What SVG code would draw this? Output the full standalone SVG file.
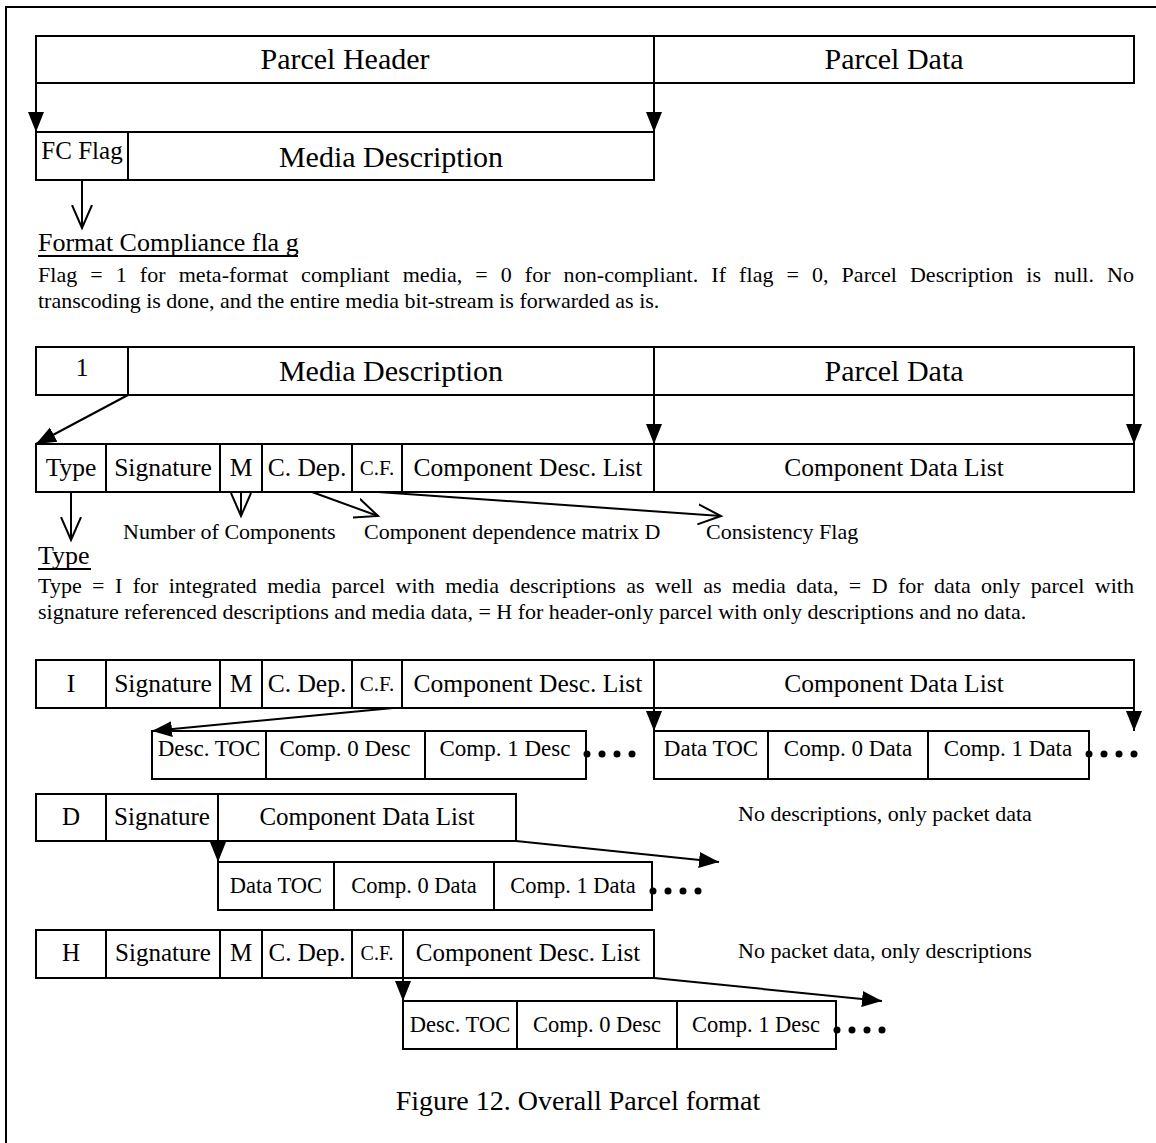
<svg xmlns="http://www.w3.org/2000/svg" width="1156" height="1143" viewBox="0 0 1156 1143">
<defs>
<style>
rect{fill:none;stroke:#000;stroke-width:2}
line{fill:none;stroke:#000;stroke-width:2}
text{font-family:"Liberation Serif","Times New Roman",serif;fill:#000}
.big{font-size:30px;text-anchor:middle}
.cell{font-size:25.5px;text-anchor:middle}
.sub{font-size:23px;text-anchor:middle}
.sm{font-size:25px;text-anchor:middle}
.sm2{font-size:22.5px;text-anchor:middle}
.lbl{font-size:22px}
.para{font-size:22px}
.head{font-size:26px}
.cap{font-size:28px;text-anchor:middle}
.dot{fill:#000;stroke:none}
</style>
<marker id="fa" markerUnits="userSpaceOnUse" markerWidth="20" markerHeight="18" refX="20" refY="8" orient="auto" viewBox="0 0 20 16">
<path d="M0,0 L20,8 L0,16 z" fill="#000"/>
</marker>
<marker id="va" markerUnits="userSpaceOnUse" markerWidth="26" markerHeight="24" refX="23" refY="11" orient="auto" viewBox="0 0 26 22">
<path d="M0,1 L23,11 L0,21" fill="none" stroke="#000" stroke-width="2"/>
</marker>
</defs>
<rect x="6" y="7" width="1160" height="1150"/>

<g id="sec1-header">
<rect x="36" y="36" width="618" height="47"/>
<text class="big" x="345" y="69">Parcel Header</text>
</g>
<g id="sec1-data">
<rect x="654" y="36" width="480" height="47"/>
<text class="big" x="894" y="69">Parcel Data</text>
</g>
<g id="sec1-fcflag">
<rect x="36" y="132" width="92" height="48"/>
<text x="82" y="159" style="font-size:25px;text-anchor:middle">FC Flag</text>
</g>
<g id="sec1-media">
<rect x="128" y="132" width="526" height="48"/>
<text class="big" x="391" y="167">Media Description</text>
</g>
<g id="fc-text">
<text class="head" x="38" y="251">Format Compliance fla g</text>
<line x1="38" y1="256" x2="298" y2="256"/>
<text class="para" x="38" y="282" word-spacing="7.4" textLength="1096" lengthAdjust="spacing">Flag = 1 for meta-format compliant media, = 0 for non-compliant. If flag = 0, Parcel Description is null. No</text>
<text class="para" x="38" y="308">transcoding is done, and the entire media bit-stream is forwarded as is.</text>
</g>

<g id="sec2-one"><rect x="36" y="347" width="92" height="48"/><text class="cell" x="82" y="376">1</text></g>
<g id="sec2-media"><rect x="128" y="347" width="526" height="48"/><text class="big" x="391" y="381">Media Description</text></g>
<g id="sec2-data"><rect x="654" y="347" width="480" height="48"/><text class="big" x="894" y="381">Parcel Data</text></g>

<g id="row2-type"><rect x="36" y="444" width="70" height="48"/><text class="cell" x="71" y="476">Type</text></g>
<g id="row2-sig"><rect x="106" y="444" width="114" height="48"/><text class="cell" x="163" y="476">Signature</text></g>
<g id="row2-m"><rect x="220" y="444" width="42" height="48"/><text class="cell" x="241" y="476">M</text></g>
<g id="row2-cdep"><rect x="262" y="444" width="90" height="48"/><text class="cell" x="307" y="476">C. Dep.</text></g>
<g id="row2-cf"><rect x="352" y="444" width="50" height="48"/><text class="cell" x="377" y="475" style="font-size:21px">C.F.</text></g>
<g id="row2-cdl"><rect x="402" y="444" width="252" height="48"/><text class="cell" x="528" y="476">Component Desc. List</text></g>
<g id="row2-cdata"><rect x="654" y="444" width="480" height="48"/><text class="cell" x="894" y="476">Component Data List</text></g>

<g id="type-text">
<text class="lbl" x="123" y="539">Number of Components</text>
<text class="lbl" x="364" y="539">Component dependence matrix D</text>
<text class="lbl" x="706" y="539">Consistency Flag</text>
<text class="head" x="38" y="564">Type</text>
<line x1="38" y1="569" x2="91" y2="569"/>
<text class="para" x="38" y="593" word-spacing="4.86" textLength="1096" lengthAdjust="spacing">Type = I for integrated media parcel with media descriptions as well as media data, = D for data only parcel with</text>
<text class="para" x="38" y="619">signature referenced descriptions and media data, = H for header-only parcel with only descriptions and no data.</text>
</g>

<g id="rowI-type"><rect x="36" y="660" width="70" height="48"/><text class="cell" x="71" y="692">I</text></g>
<g id="rowI-sig"><rect x="106" y="660" width="114" height="48"/><text class="cell" x="163" y="692">Signature</text></g>
<g id="rowI-m"><rect x="220" y="660" width="42" height="48"/><text class="cell" x="241" y="692">M</text></g>
<g id="rowI-cdep"><rect x="262" y="660" width="90" height="48"/><text class="cell" x="307" y="692">C. Dep.</text></g>
<g id="rowI-cf"><rect x="352" y="660" width="50" height="48"/><text class="cell" x="377" y="691" style="font-size:21px">C.F.</text></g>
<g id="rowI-cdl"><rect x="402" y="660" width="252" height="48"/><text class="cell" x="528" y="692">Component Desc. List</text></g>
<g id="rowI-cdata"><rect x="654" y="660" width="480" height="48"/><text class="cell" x="894" y="692">Component Data List</text></g>

<g id="subI-dtoc"><rect x="152" y="731" width="114" height="48"/><text class="sub" x="209" y="756">Desc. TOC</text></g>
<g id="subI-c0"><rect x="266" y="731" width="159" height="48"/><text class="sub" x="345" y="756">Comp. 0 Desc</text></g>
<g id="subI-c1"><rect x="425" y="731" width="161" height="48"/><text class="sub" x="505" y="756">Comp. 1 Desc</text></g>
<g id="subI-dots1"><circle class="dot" cx="587" cy="754" r="3.5"/><circle class="dot" cx="602" cy="754" r="3.5"/><circle class="dot" cx="617" cy="754" r="3.5"/><circle class="dot" cx="632" cy="754" r="3.5"/></g>
<g id="subI-datatoc"><rect x="654" y="731" width="114" height="48"/><text class="sub" x="711" y="756">Data TOC</text></g>
<g id="subI-d0"><rect x="768" y="731" width="160" height="48"/><text class="sub" x="848" y="756">Comp. 0 Data</text></g>
<g id="subI-d1"><rect x="928" y="731" width="161" height="48"/><text class="sub" x="1008" y="756">Comp. 1 Data</text></g>
<g id="subI-dots2"><circle class="dot" cx="1089" cy="754" r="3.5"/><circle class="dot" cx="1104" cy="754" r="3.5"/><circle class="dot" cx="1119" cy="754" r="3.5"/><circle class="dot" cx="1134" cy="754" r="3.5"/></g>

<g id="rowD-type"><rect x="36" y="794" width="70" height="47"/><text class="sm" x="71" y="825">D</text></g>
<g id="rowD-sig"><rect x="106" y="794" width="112" height="47"/><text class="sm" x="162" y="825">Signature</text></g>
<g id="rowD-cdata"><rect x="218" y="794" width="298" height="47"/><text class="sm" x="367" y="825">Component Data List</text></g>
<g id="rowD-note"><text class="lbl" x="738" y="821">No descriptions, only packet data</text></g>
<g id="subD-datatoc"><rect x="218" y="862" width="116" height="48"/><text class="sm2" x="276" y="893">Data TOC</text></g>
<g id="subD-d0"><rect x="334" y="862" width="160" height="48"/><text class="sm2" x="414" y="893">Comp. 0 Data</text></g>
<g id="subD-d1"><rect x="494" y="862" width="158" height="48"/><text class="sm2" x="573" y="893">Comp. 1 Data</text></g>
<g id="subD-dots"><circle class="dot" cx="653" cy="891" r="3.5"/><circle class="dot" cx="668" cy="891" r="3.5"/><circle class="dot" cx="683" cy="891" r="3.5"/><circle class="dot" cx="698" cy="891" r="3.5"/></g>

<g id="rowH-type"><rect x="36" y="930" width="70" height="48"/><text class="sm" x="71" y="961">H</text></g>
<g id="rowH-sig"><rect x="106" y="930" width="114" height="48"/><text class="sm" x="163" y="961">Signature</text></g>
<g id="rowH-m"><rect x="220" y="930" width="42" height="48"/><text class="sm" x="241" y="961">M</text></g>
<g id="rowH-cdep"><rect x="262" y="930" width="90" height="48"/><text class="sm" x="307" y="961">C. Dep.</text></g>
<g id="rowH-cf"><rect x="352" y="930" width="51" height="48"/><text class="sm" x="377" y="960" style="font-size:20px">C.F.</text></g>
<g id="rowH-cdl"><rect x="403" y="930" width="251" height="48"/><text class="sm" x="528" y="961">Component Desc. List</text></g>
<g id="rowH-note"><text class="lbl" x="738" y="958">No packet data, only descriptions</text></g>
<g id="subH-dtoc"><rect x="403" y="1001" width="114" height="48"/><text class="sm2" x="460" y="1032">Desc. TOC</text></g>
<g id="subH-c0"><rect x="517" y="1001" width="160" height="48"/><text class="sm2" x="597" y="1032">Comp. 0 Desc</text></g>
<g id="subH-c1"><rect x="677" y="1001" width="159" height="48"/><text class="sm2" x="756" y="1032">Comp. 1 Desc</text></g>
<g id="subH-dots"><circle class="dot" cx="837" cy="1030" r="3.5"/><circle class="dot" cx="852" cy="1030" r="3.5"/><circle class="dot" cx="867" cy="1030" r="3.5"/><circle class="dot" cx="882" cy="1030" r="3.5"/></g>

<g id="caption"><text class="cap" x="578" y="1110">Figure 12. Overall Parcel format</text></g>

<g id="connectors">
<line x1="36" y1="83" x2="36" y2="132" marker-end="url(#fa)"/>
<line x1="654" y1="83" x2="654" y2="132" marker-end="url(#fa)"/>
<line x1="82" y1="180" x2="82" y2="228" marker-end="url(#va)"/>
<line x1="128" y1="395" x2="36" y2="444" marker-end="url(#fa)"/>
<line x1="654" y1="395" x2="654" y2="444" marker-end="url(#fa)"/>
<line x1="1134" y1="395" x2="1134" y2="444" marker-end="url(#fa)"/>
<line x1="71" y1="492" x2="71" y2="540" marker-end="url(#va)"/>
<line x1="241" y1="492" x2="241" y2="516" marker-end="url(#va)"/>
<line x1="312" y1="492" x2="378" y2="516" marker-end="url(#va)"/>
<line x1="378" y1="492" x2="721" y2="516" marker-end="url(#va)"/>
<line x1="393" y1="708" x2="152" y2="731" marker-end="url(#fa)"/>
<line x1="654" y1="708" x2="654" y2="731" marker-end="url(#fa)"/>
<line x1="1134" y1="708" x2="1134" y2="731" marker-end="url(#fa)"/>
<line x1="218" y1="841" x2="218" y2="862" marker-end="url(#fa)"/>
<line x1="516" y1="841" x2="719" y2="862" marker-end="url(#fa)"/>
<line x1="403" y1="978" x2="403" y2="1001" marker-end="url(#fa)"/>
<line x1="654" y1="978" x2="882" y2="1001" marker-end="url(#fa)"/>
</g>
</svg>
